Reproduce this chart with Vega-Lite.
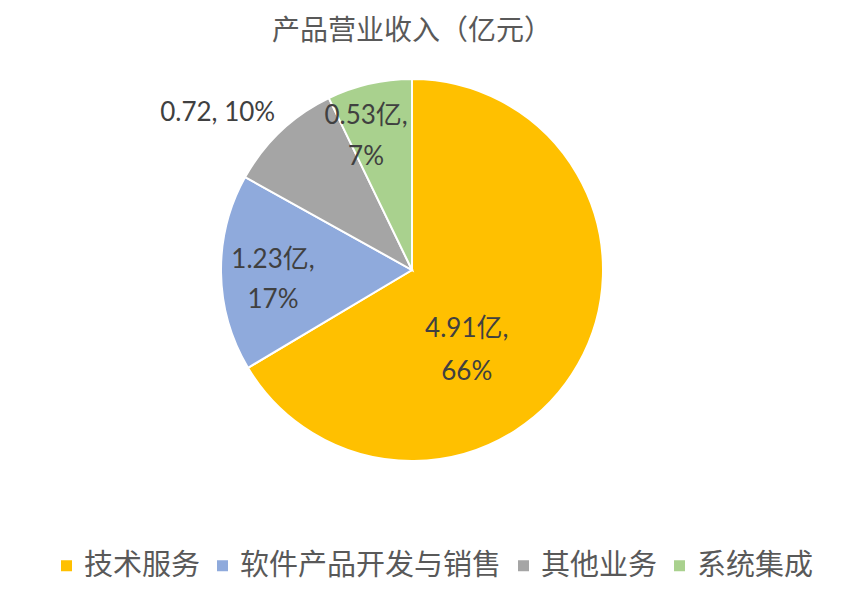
{
  "$schema": "https://vega.github.io/schema/vega-lite/v6.json",
  "width": 824,
  "height": 400,
  "autosize": {"type": "none"},
  "padding": {"left": 0, "top": 70, "right": 41, "bottom": 123},
  "background": "white",
  "title": {"text": "产品营业收入（亿元）", "font": "Noto Sans CJK SC", "fontSize": 28, "fontWeight": "normal", "color": "#595959", "anchor": "middle", "frame": "group", "offset": -8},
  "data": {"values": [
    {"cat": "技术服务", "value": 4.91, "label": "4.91亿,\n66%", "idx": 1},
    {"cat": "软件产品开发与销售", "value": 1.23, "label": "1.23亿,\n17%", "idx": 2},
    {"cat": "其他业务", "value": 0.72, "label": "0.72, 10%", "idx": 3},
    {"cat": "系统集成", "value": 0.53, "label": "0.53亿,\n7%", "idx": 4}
  ]},
  "encoding": {
    "theta": {"field": "value", "type": "quantitative", "stack": true},
    "order": {"field": "idx", "type": "quantitative"}
  },
  "layer": [
    {
      "mark": {"type": "arc", "outerRadius": 191, "stroke": "white", "strokeWidth": 2},
      "encoding": {
        "color": {
          "field": "cat", "type": "nominal",
          "sort": ["技术服务", "软件产品开发与销售", "其他业务", "系统集成"],
          "scale": {"domain": ["技术服务", "软件产品开发与销售", "其他业务", "系统集成"], "range": ["#FFC000", "#8FAADC", "#A5A5A5", "#A9D18E"]},
          "legend": {
            "orient": "none", "legendX": 52, "legendY": 481, "direction": "horizontal", "columns": 4,
            "title": null, "symbolType": "square", "symbolSize": 121, "symbolStrokeWidth": 0,
            "labelFont": "Noto Sans CJK SC", "labelFontSize": 29, "labelColor": "#595959",
            "labelOffset": 3, "columnPadding": 7, "padding": 0, "labelLimit": 400
          }
        }
      }
    },
    {
      "mark": {"type": "text", "radius": 94, "dx": -27, "dy": 13, "font": "Lato, Noto Sans CJK SC", "fontSize": 26, "lineBreak": "\n", "lineHeight": 43, "align": "center", "baseline": "middle", "color": "#404040"},
      "encoding": {"text": {"condition": {"test": "datum.cat === '技术服务'", "field": "label", "type": "nominal"}, "value": ""}}
    },
    {
      "mark": {"type": "text", "radius": 140, "dx": 1, "dy": -12, "font": "Lato, Noto Sans CJK SC", "fontSize": 26, "lineBreak": "\n", "lineHeight": 40, "align": "center", "baseline": "middle", "color": "#404040"},
      "encoding": {"text": {"condition": {"test": "datum.cat === '软件产品开发与销售'", "field": "label", "type": "nominal"}, "value": ""}}
    },
    {
      "mark": {"type": "text", "radius": 251, "dx": -22, "dy": 26, "font": "Lato, Noto Sans CJK SC", "fontSize": 26, "lineBreak": "\n", "lineHeight": 40, "align": "center", "baseline": "middle", "color": "#404040"},
      "encoding": {"text": {"condition": {"test": "datum.cat === '其他业务'", "field": "label", "type": "nominal"}, "value": ""}}
    },
    {
      "mark": {"type": "text", "radius": 143, "dx": -14, "dy": -15, "font": "Lato, Noto Sans CJK SC", "fontSize": 26, "lineBreak": "\n", "lineHeight": 41, "align": "center", "baseline": "middle", "color": "#404040"},
      "encoding": {"text": {"condition": {"test": "datum.cat === '系统集成'", "field": "label", "type": "nominal"}, "value": ""}}
    }
  ],
  "config": {"view": {"stroke": null}}
}
